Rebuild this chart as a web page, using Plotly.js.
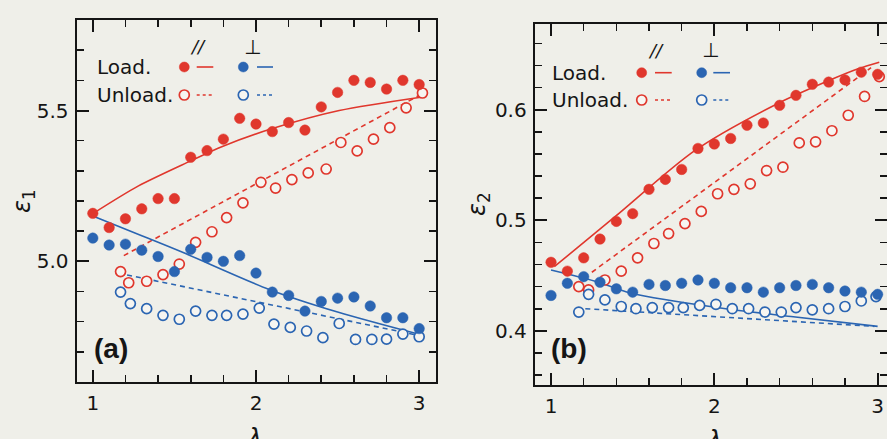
<!DOCTYPE html>
<html>
<head>
<meta charset="utf-8">
<script src="https://cdn.plot.ly/plotly-3.0.1.min.js"></script>
<style>
html,body{margin:0;padding:0;background:#efefe9;}
#chart{width:887px;height:439px;}
</style>
</head>
<body>
<div id="chart"></div>
<script>
// ---------- Panel (a): epsilon_1 ----------
const lamLoad = [1.0,1.1,1.2,1.3,1.4,1.5,1.6,1.7,1.8,1.9,2.0,2.1,2.2,2.3,2.4,2.5,2.6,2.7,2.8,2.9,3.0];
const eps1ParLoad = [5.159,5.112,5.141,5.174,5.208,5.208,5.345,5.367,5.405,5.474,5.455,5.430,5.460,5.435,5.512,5.560,5.600,5.593,5.571,5.600,5.586];
const eps1PerpLoad = [5.077,5.054,5.057,5.037,5.016,4.966,5.040,5.013,5.000,5.019,4.961,4.898,4.887,4.835,4.867,4.878,4.882,4.852,4.813,4.813,4.777];

const lamUnloadA = [3.02,2.92,2.82,2.72,2.62,2.52,2.43,2.32,2.22,2.12,2.03,1.92,1.82,1.73,1.63,1.53,1.43,1.33,1.22,1.17];
const eps1ParUnload = [5.558,5.509,5.443,5.405,5.366,5.394,5.306,5.293,5.271,5.243,5.262,5.194,5.145,5.098,5.063,4.991,4.956,4.934,4.929,4.966];
const lamUnloadPerpA = [3.00,2.90,2.80,2.71,2.61,2.51,2.41,2.31,2.21,2.11,2.02,1.92,1.82,1.73,1.63,1.53,1.43,1.33,1.23,1.17];
const eps1PerpUnload = [4.750,4.759,4.742,4.741,4.741,4.794,4.747,4.769,4.781,4.792,4.845,4.825,4.821,4.821,4.835,4.808,4.821,4.843,4.860,4.898];

const fitA_parLoadLam = [1.0,1.28,1.6,1.79,2.10,2.51,3.02];
const fitA_parLoad = [5.158,5.25,5.333,5.38,5.44,5.50,5.545];
const fitA_parUnloadLam = [1.19,3.02];
const fitA_parUnload = [5.019,5.556];
const fitA_perpLoadLam = [1.0,1.30,1.55,2.08,2.5,3.0];
const fitA_perpLoad = [5.150,5.085,5.030,4.907,4.832,4.758];
const fitA_perpUnloadLam = [1.21,3.0];
const fitA_perpUnload = [4.955,4.754];

// ---------- Panel (b): epsilon_2 ----------
const eps2ParLoad = [0.462,0.454,0.466,0.483,0.499,0.506,0.528,0.537,0.546,0.565,0.569,0.574,0.586,0.588,0.604,0.613,0.623,0.625,0.627,0.634,0.632];
const eps2PerpLoad = [0.432,0.443,0.449,0.444,0.438,0.435,0.442,0.441,0.443,0.446,0.443,0.439,0.439,0.435,0.439,0.441,0.442,0.439,0.436,0.435,0.433];

const lamUnloadB = [3.01,2.92,2.82,2.72,2.62,2.52,2.42,2.32,2.22,2.12,2.02,1.92,1.82,1.72,1.63,1.53,1.43,1.33,1.23,1.17];
const eps2ParUnload = [0.630,0.612,0.595,0.581,0.571,0.570,0.548,0.545,0.533,0.528,0.524,0.508,0.497,0.488,0.479,0.466,0.454,0.446,0.437,0.440];
const lamUnloadPerpB = [2.99,2.90,2.80,2.70,2.60,2.50,2.41,2.31,2.21,2.11,2.01,1.91,1.81,1.72,1.62,1.52,1.43,1.33,1.23,1.17];
const eps2PerpUnload = [0.431,0.427,0.422,0.420,0.419,0.421,0.417,0.417,0.420,0.420,0.424,0.423,0.421,0.421,0.421,0.420,0.422,0.428,0.433,0.417];

const fitB_parLoadLam = [1.02,1.39,1.88,2.38,2.68,2.88,3.01];
const fitB_parLoad = [0.458,0.503,0.563,0.605,0.625,0.637,0.643];
const fitB_parUnloadLam = [1.25,2.96];
const fitB_parUnload = [0.453,0.638];
const fitB_perpLoadLam = [1.0,1.29,1.49,2.07,2.47,3.0];
const fitB_perpLoad = [0.455,0.444,0.434,0.420,0.413,0.404];
const fitB_perpUnloadLam = [1.21,2.98];
const fitB_perpUnload = [0.420,0.404];

// ---------- styles ----------
const RED = '#e0372d', BLUE = '#2b65b2', OPENFILL = '#f6f5f1', INK = '#151515';
const W = 887, H = 439;
const fx = v => v / W, fy = v => 1 - v / H;

function filled(x, y, c, xa, ya){ return {x, y, xaxis:xa, yaxis:ya, type:'scatter', mode:'markers', marker:{size:10.5, color:c, line:{color:c, width:0.5}}, showlegend:false, hoverinfo:'skip'}; }
function open(x, y, c, xa, ya){ return {x, y, xaxis:xa, yaxis:ya, type:'scatter', mode:'markers', marker:{size:10, color:OPENFILL, line:{color:c, width:1.7}}, showlegend:false, hoverinfo:'skip'}; }
function fit(x, y, c, dash, xa, ya){ return {x, y, xaxis:xa, yaxis:ya, type:'scatter', mode:'lines', line:{color:c, width:1.6, dash:dash, shape:'spline', smoothing:0.8}, showlegend:false, hoverinfo:'skip'}; }

const data = [
  fit(fitA_parLoadLam, fitA_parLoad, RED, 'solid', 'x', 'y'),
  fit(fitA_parUnloadLam, fitA_parUnload, RED, '5px,4px', 'x', 'y'),
  fit(fitA_perpLoadLam, fitA_perpLoad, BLUE, 'solid', 'x', 'y'),
  fit(fitA_perpUnloadLam, fitA_perpUnload, BLUE, '5px,4px', 'x', 'y'),
  open(lamUnloadA, eps1ParUnload, RED, 'x', 'y'),
  open(lamUnloadPerpA, eps1PerpUnload, BLUE, 'x', 'y'),
  filled(lamLoad, eps1ParLoad, RED, 'x', 'y'),
  filled(lamLoad, eps1PerpLoad, BLUE, 'x', 'y'),

  fit(fitB_parLoadLam, fitB_parLoad, RED, 'solid', 'x2', 'y2'),
  fit(fitB_parUnloadLam, fitB_parUnload, RED, '5px,4px', 'x2', 'y2'),
  fit(fitB_perpLoadLam, fitB_perpLoad, BLUE, 'solid', 'x2', 'y2'),
  fit(fitB_perpUnloadLam, fitB_perpUnload, BLUE, '5px,4px', 'x2', 'y2'),
  open(lamUnloadB, eps2ParUnload, RED, 'x2', 'y2'),
  open(lamUnloadPerpB, eps2PerpUnload, BLUE, 'x2', 'y2'),
  filled(lamLoad, eps2ParLoad, RED, 'x2', 'y2'),
  filled(lamLoad, eps2PerpLoad, BLUE, 'x2', 'y2')
];

const tickFont = {family:'DejaVu Sans, Arial, sans-serif', size:20, color:INK};
function xAxis(domain, range, anchor){
  return {domain, range, anchor, showgrid:false, zeroline:false, showline:true, linecolor:INK, linewidth:2,
    mirror:'ticks', ticks:'inside', ticklen:12, tickwidth:2, tickcolor:INK, tick0:1, dtick:1,
    tickfont:tickFont, ticklabelstandoff:2,
    minor:{tick0:1, dtick:0.2, ticks:'inside', ticklen:7, tickwidth:1.6, tickcolor:INK, showgrid:false}};
}
function yAxis(domain, range, anchor, tick0, dtick, mdtick){
  return {domain, range, anchor, showgrid:false, zeroline:false, showline:true, linecolor:INK, linewidth:2,
    mirror:'ticks', ticks:'inside', ticklen:12, tickwidth:2, tickcolor:INK, tick0, dtick, tickformat:'.1f',
    tickfont:tickFont, ticklabelstandoff:2,
    minor:{tick0, dtick:mdtick, ticks:'inside', ticklen:7, tickwidth:1.6, tickcolor:INK, showgrid:false}};
}

const shapes = [], annotations = [];
function legendBlock(txtX, row1, row2, slashX, perpX, headY, rDot, rLine, bDot, bLine){
  annotations.push({xref:'paper', yref:'paper', x:fx(txtX), y:fy(row1), xanchor:'left', yanchor:'middle', text:'Load.', showarrow:false, font:{family:'DejaVu Sans, Arial', size:20, color:INK}});
  annotations.push({xref:'paper', yref:'paper', x:fx(txtX), y:fy(row2), xanchor:'left', yanchor:'middle', text:'Unload.', showarrow:false, font:{family:'DejaVu Sans, Arial', size:20, color:INK}});
  annotations.push({xref:'paper', yref:'paper', x:fx(slashX), y:fy(headY), xanchor:'center', yanchor:'middle', text:'<i>//</i>', showarrow:false, font:{family:'DejaVu Sans, Arial', size:18, color:INK}});
  annotations.push({xref:'paper', yref:'paper', x:fx(perpX), y:fy(headY), xanchor:'center', yanchor:'middle', text:'⊥', showarrow:false, font:{family:'DejaVu Sans, Arial', size:20, color:INK}});
  const dot = (cx, cy, c, fill) => shapes.push({type:'circle', xref:'paper', yref:'paper', xsizemode:'pixel', ysizemode:'pixel', xanchor:fx(cx), yanchor:fy(cy), x0:-5, x1:5, y0:-5, y1:5, fillcolor:fill, line:{color:c, width:fill===OPENFILL?1.7:0.5}});
  const seg = (xa, xb, cy, c, dash) => shapes.push({type:'line', xref:'paper', yref:'paper', x0:fx(xa), x1:fx(xb), y0:fy(cy), y1:fy(cy), line:{color:c, width:1.6, dash:dash}});
  dot(rDot, row1, RED, RED); seg(rLine[0], rLine[1], row1, RED, 'solid');
  dot(bDot, row1, BLUE, BLUE); seg(bLine[0], bLine[1], row1, BLUE, 'solid');
  dot(rDot, row2, RED, OPENFILL); seg(rLine[0], rLine[1], row2, RED, '3px,3px');
  dot(bDot, row2, BLUE, OPENFILL); seg(bLine[0], bLine[1], row2, BLUE, '3px,3px');
}
legendBlock(95, 67, 95, 197.5, 253, 46.5, 184.3, [196.7,213.3], 243.3, [257,273]);
legendBlock(550, 72.7, 100, 655.5, 710, 50, 641.7, [655,671.7], 701.7, [713.3,730]);

// panel labels
annotations.push({xref:'paper', yref:'paper', x:fx(111), y:fy(348), xanchor:'center', yanchor:'middle', text:'<b>(a)</b>', showarrow:false, font:{family:'Liberation Sans, Arial', size:28, color:INK}});
annotations.push({xref:'paper', yref:'paper', x:fx(569), y:fy(348), xanchor:'center', yanchor:'middle', text:'<b>(b)</b>', showarrow:false, font:{family:'Liberation Sans, Arial', size:28, color:INK}});
// axis titles
annotations.push({xref:'paper', yref:'paper', x:fx(23), y:fy(201), xanchor:'center', yanchor:'middle', textangle:-90, text:'<i>ε</i><sub>1</sub>', showarrow:false, font:{family:'DejaVu Sans, Arial', size:24, color:INK}});
annotations.push({xref:'paper', yref:'paper', x:fx(478), y:fy(204), xanchor:'center', yanchor:'middle', textangle:-90, text:'<i>ε</i><sub>2</sub>', showarrow:false, font:{family:'DejaVu Sans, Arial', size:24, color:INK}});
annotations.push({xref:'paper', yref:'paper', x:fx(254), y:fy(438), xanchor:'center', yanchor:'middle', text:'<i>λ</i>', showarrow:false, font:{family:'DejaVu Sans, Arial', size:24, color:INK}});
annotations.push({xref:'paper', yref:'paper', x:fx(714), y:fy(440), xanchor:'center', yanchor:'middle', text:'<i>λ</i>', showarrow:false, font:{family:'DejaVu Sans, Arial', size:24, color:INK}});

const layout = {
  width:W, height:H, margin:{l:0, r:0, t:0, b:0},
  paper_bgcolor:'#efefe9', plot_bgcolor:'#efefe9',
  showlegend:false,
  xaxis: xAxis([76.5/W, 435.5/W], [0.9, 3.1], 'y'),
  yaxis: yAxis([(H-382)/H, (H-20)/H], [4.6, 5.8], 'x', 5.0, 0.5, 0.1),
  xaxis2: xAxis([534.7/W, 1], [0.9, 0.9 + (W-534.7)/163.3], 'y2'),
  yaxis2: yAxis([(H-385)/H, (H-23.5)/H], [0.351, 0.678], 'x2', 0.4, 0.1, 0.02),
  shapes, annotations
};

Plotly.newPlot('chart', data, layout, {staticPlot:true, displayModeBar:false});
</script>
</body>
</html>
